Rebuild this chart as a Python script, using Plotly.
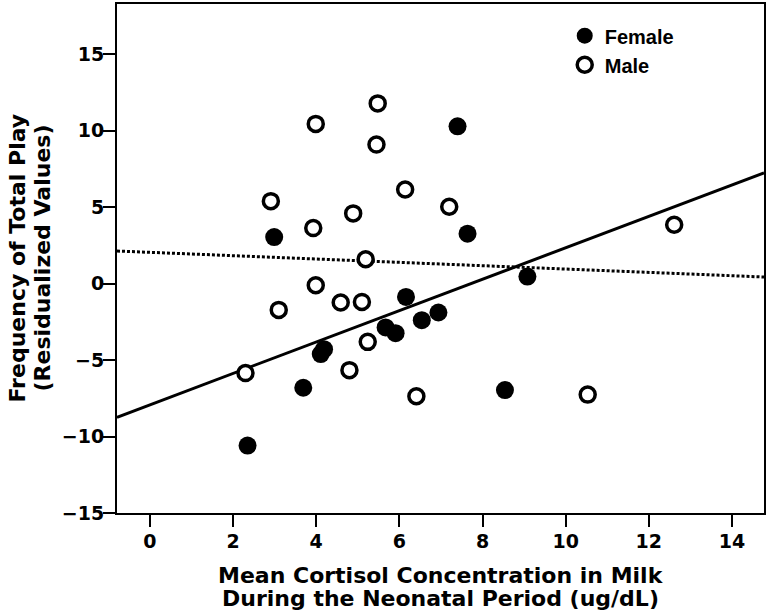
import plotly.graph_objects as go

# Female (filled circles)
female_cortisol = [2.99, 7.40, 7.64, 9.08, 6.16, 5.67, 5.91, 6.54, 6.94, 4.19, 4.11, 3.69, 2.35, 8.54]
female_play = [3.04, 10.28, 3.26, 0.46, -0.87, -2.87, -3.24, -2.39, -1.89, -4.29, -4.61, -6.81, -10.59, -6.96]

# Male (open circles)
male_cortisol = [2.91, 3.99, 3.93, 5.48, 5.45, 4.89, 6.14, 5.19, 7.20, 12.61,
                 3.99, 3.10, 4.59, 5.10, 5.24, 4.80, 2.30, 6.41, 10.53]
male_play = [5.39, 10.44, 3.63, 11.78, 9.09, 4.59, 6.15, 1.59, 5.02, 3.85,
             -0.11, -1.72, -1.24, -1.20, -3.81, -5.66, -5.85, -7.37, -7.26]

# fit lines (end points)
fit_x = [-0.79, 14.77]
female_fit_y = [-8.74, 7.24]
male_fit_y = [2.13, 0.43]

x_ticks = [0, 2, 4, 6, 8, 10, 12, 14]
y_ticks = [-15, -10, -5, 0, 5, 10, 15]

x_title = ["Mean Cortisol Concentration in Milk", "During the Neonatal Period (ug/dL)"]
y_title = ["Frequency of Total Play", "(Residualized Values)"]

tick_font = dict(family="DejaVu Sans", size=19, color="black", weight="bold")
title_font = dict(family="DejaVu Sans", size=22, color="black", weight="bold")

fig = go.Figure()

fig.add_trace(go.Scatter(x=fit_x, y=female_fit_y, mode="lines",
                         line=dict(color="black", width=3),
                         showlegend=False, hoverinfo="skip"))
fig.add_trace(go.Scatter(x=fit_x, y=male_fit_y, mode="lines",
                         line=dict(color="black", width=3, dash="3px,2px"),
                         showlegend=False, hoverinfo="skip"))

fig.add_trace(go.Scatter(x=female_cortisol, y=female_play, mode="markers",
                         name="Female",
                         marker=dict(symbol="circle", size=18, color="black",
                                     line=dict(width=0))))
fig.add_trace(go.Scatter(x=male_cortisol, y=male_play, mode="markers",
                         name="Male",
                         marker=dict(symbol="circle", size=15, color="white",
                                     line=dict(color="black", width=3.5))))

fig.update_xaxes(range=[-0.79, 14.77], tickvals=x_ticks, ticks="outside",
                 ticklen=12, tickwidth=2, tickcolor="black", ticklabelstandoff=-2,
                 showline=True, linecolor="black", linewidth=2, mirror=True,
                 showgrid=False, zeroline=False, tickfont=tick_font,
                 automargin=False)
fig.update_yaxes(range=[-15, 18.28], tickvals=y_ticks, ticks="outside",
                 ticklen=12, tickwidth=2, tickcolor="black", ticklabelstandoff=-5,
                 showline=True, linecolor="black", linewidth=2, mirror=True,
                 showgrid=False, zeroline=False, tickfont=tick_font,
                 automargin=False)

# two-line axis titles, one annotation per line (tight line spacing)
for i, line in enumerate(x_title):
    fig.add_annotation(text=line, xref="paper", yref="paper", x=0.5, y=0,
                       xanchor="center", yanchor="middle", yshift=-62 - 23 * i,
                       showarrow=False, font=title_font)
for i, line in enumerate(y_title):
    fig.add_annotation(text=line, xref="paper", yref="paper", x=0, y=0.5,
                       xanchor="center", yanchor="middle", xshift=-100 + 25 * i,
                       textangle=-90, showarrow=False, font=title_font)

fig.update_layout(
    width=769, height=616,
    margin=dict(l=117, r=5, t=4, b=103),
    plot_bgcolor="white", paper_bgcolor="white",
    legend=dict(x=0.692, y=0.976, xanchor="left", yanchor="top",
                bgcolor="rgba(0,0,0,0)",
                font=dict(family="Liberation Sans", size=20, color="black", weight="bold"),
                tracegroupgap=0),
)

fig.write_html("out.html", config={"displayModeBar": False},
               post_script="document.body.style.margin='0';")
